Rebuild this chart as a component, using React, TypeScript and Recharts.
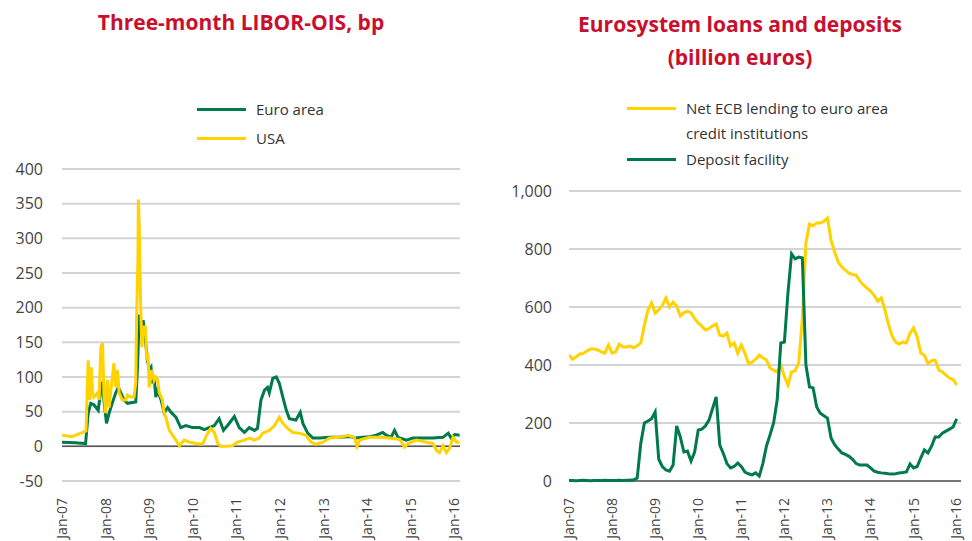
import React from "react";
import { LineChart, Line, XAxis, YAxis, CartesianGrid, ReferenceLine } from "recharts";

// colours
const GREEN = "#00794b";
const YELLOW = "#ffd200";
const TITLE = "#c8102e";
const FONT = "'Open Sans', 'Noto Sans', sans-serif";

// year ticks, shared by both charts
const yearTicks = [2007, 2008, 2009, 2010, 2011, 2012, 2013, 2014, 2015, 2016];

// Three-month LIBOR-OIS, bp  ([decimal year, bp])
const euroArea: [number, number][] = [
    [2007.0, 6], [2007.3, 5], [2007.54, 4], [2007.6, 48], [2007.66, 62], [2007.73, 60],
    [2007.83, 52], [2007.89, 81], [2007.93, 93], [2007.96, 67], [2008.02, 33], [2008.08, 48],
    [2008.15, 62], [2008.23, 77], [2008.29, 85], [2008.42, 67], [2008.5, 62], [2008.69, 64],
    [2008.73, 114], [2008.77, 190], [2008.81, 164], [2008.86, 182], [2008.91, 153], [2008.96, 124],
    [2009.0, 110], [2009.04, 114], [2009.07, 91], [2009.11, 100], [2009.15, 71], [2009.19, 81],
    [2009.27, 67], [2009.34, 49], [2009.42, 56], [2009.5, 49], [2009.61, 42], [2009.72, 27],
    [2009.84, 30], [2009.99, 27], [2010.15, 27], [2010.26, 24], [2010.37, 27], [2010.49, 30],
    [2010.6, 40], [2010.7, 23], [2010.83, 33], [2010.95, 43], [2011.06, 27], [2011.18, 20],
    [2011.29, 27], [2011.41, 23], [2011.48, 26], [2011.56, 67], [2011.64, 81], [2011.71, 85],
    [2011.75, 77], [2011.83, 98], [2011.91, 100], [2011.98, 91], [2012.06, 71], [2012.14, 52],
    [2012.21, 40], [2012.36, 38], [2012.46, 49], [2012.52, 33], [2012.63, 19], [2012.75, 12],
    [2012.9, 12], [2013.13, 13], [2013.36, 13], [2013.59, 14], [2013.74, 12], [2013.89, 13],
    [2014.05, 14], [2014.2, 16], [2014.35, 20], [2014.43, 16], [2014.54, 13], [2014.62, 23],
    [2014.7, 13], [2014.89, 9], [2015.04, 12], [2015.27, 12], [2015.5, 12], [2015.73, 13],
    [2015.85, 19], [2015.92, 12], [2016.0, 17], [2016.11, 16],
];

const usa: [number, number][] = [
    [2007.0, 16], [2007.23, 14], [2007.39, 18], [2007.55, 22], [2007.6, 124], [2007.64, 67],
    [2007.67, 114], [2007.7, 77], [2007.73, 71], [2007.81, 77], [2007.85, 67], [2007.89, 143],
    [2007.93, 149], [2007.96, 77], [2008.0, 48], [2008.04, 96], [2008.08, 56], [2008.12, 81],
    [2008.19, 120], [2008.23, 85], [2008.27, 110], [2008.31, 77], [2008.38, 67], [2008.46, 67],
    [2008.5, 74], [2008.58, 71], [2008.65, 71], [2008.69, 91], [2008.71, 187], [2008.74, 269],
    [2008.75, 356], [2008.77, 317], [2008.8, 211], [2008.83, 143], [2008.86, 172], [2008.91, 172],
    [2008.94, 124], [2008.97, 134], [2009.0, 85], [2009.06, 110], [2009.11, 95], [2009.15, 100],
    [2009.19, 96], [2009.23, 77], [2009.3, 67], [2009.34, 48], [2009.38, 42], [2009.44, 27],
    [2009.46, 23], [2009.61, 9], [2009.69, 1], [2009.8, 9], [2009.92, 6], [2010.07, 4],
    [2010.22, 3], [2010.34, 19], [2010.41, 26], [2010.49, 20], [2010.57, 4], [2010.64, 0],
    [2010.76, 0], [2010.91, 1], [2011.02, 6], [2011.18, 9], [2011.29, 12], [2011.41, 9],
    [2011.52, 12], [2011.6, 19], [2011.75, 23], [2011.87, 30], [2011.98, 42], [2012.06, 33],
    [2012.17, 26], [2012.29, 20], [2012.44, 19], [2012.59, 16], [2012.71, 6], [2012.82, 3],
    [2012.98, 6], [2013.13, 12], [2013.36, 13], [2013.55, 16], [2013.7, 13], [2013.76, 0],
    [2013.82, 9], [2014.05, 13], [2014.28, 13], [2014.51, 12], [2014.74, 10], [2014.85, -1],
    [2014.93, 4], [2015.12, 9], [2015.35, 6], [2015.5, 4], [2015.58, -6], [2015.65, -9],
    [2015.73, 1], [2015.81, -9], [2015.88, -3], [2015.96, 13], [2016.04, 6], [2016.11, 6],
];

const liborTicks = [-50, 0, 50, 100, 150, 200, 250, 300, 350, 400];

// Eurosystem loans and deposits, monthly from Jan-07 (billion euros)
const firstYear = 2007;
const netLending = [
    435, 420, 428, 438, 440, 448, 455, 455, 452, 445, 441, 469,
    441, 445, 472, 462, 462, 465, 459, 466, 476, 538, 590, 614,
    579, 590, 605, 631, 600, 617, 603, 569, 580, 586, 580, 560,
    545, 534, 521, 525, 535, 541, 503, 500, 510, 466, 476, 441,
    469, 440, 405, 410, 420, 434, 425, 417, 390, 382, 376, 400,
    360, 331, 376, 380, 407, 560, 820, 886, 880, 890, 890, 895,
    907, 830, 790, 755, 738, 727, 717, 712, 710, 690, 676, 665,
    655, 640, 620, 631, 590, 540, 500, 479, 472, 479, 476, 510,
    528, 497, 441, 434, 405, 415, 417, 383, 376, 365, 355, 350,
    331,
];
const depositFacility = [
    2, 2, 1, 2, 3, 2, 1, 2, 2, 2, 3, 2,
    2, 2, 3, 2, 3, 3, 4, 10, 130, 200, 207, 215,
    238, 75, 50, 38, 34, 55, 190, 152, 100, 103, 69, 100,
    176, 179, 190, 210, 250, 290, 124, 95, 60, 45, 50, 62,
    50, 31, 25, 21, 28, 17, 60, 120, 159, 200, 280, 476,
    479, 650, 783, 766, 772, 769, 400, 324, 321, 255, 234, 225,
    217, 148, 125, 110, 97, 92, 85, 75, 60, 55, 55, 55,
    45, 34, 30, 28, 27, 25, 24, 25, 28, 29, 31, 59,
    45, 50, 80, 107, 97, 120, 152, 152, 165, 172, 179, 186,
    214,
];
const euroTicks = [0, 200, 400, 600, 800, 1000];

const eurosystemRows = netLending.map((v, i) => ({
    t: firstYear + i / 12,
    lending: v,
    deposit: depositFacility[i],
}));

const toPairs = (d: [number, number][]) => d.map(([t, v]) => ({ t, v }));

const yearLabel = (y: number) => `Jan-${String(Math.round(y) % 100).padStart(2, "0")}`;

// vertical year label, text ends near the axis
const YearTick = (props: any) => {
    const { x, y, payload } = props;
    return (
        <g transform={`translate(${x},${y})`}>
            <text
                transform="rotate(-90)"
                x={-9}
                y={0}
                dy="0.35em"
                textAnchor="end"
                fill="#444"
                fontSize={14}
                fontFamily={FONT}
            >
                {yearLabel(payload.value)}
            </text>
        </g>
    );
};

const axisTick = { fill: "#444", fontSize: 16, fontFamily: FONT };

const LegendRow = ({ color, children, top, left }: any) => (
    <div style={{ position: "absolute", top, left, display: "flex", alignItems: "flex-start" }}>
        <div style={{ width: 49, height: 3, background: color, marginTop: 11, marginRight: 10 }} />
        <div style={{ fontSize: 15, color: "#333", lineHeight: "25px" }}>{children}</div>
    </div>
);

export default function App() {
    return (
        <div
            style={{
                position: "absolute",
                left: 0,
                top: 0,
                width: 972,
                height: 541,
                background: "#fff",
                fontFamily: FONT,
                overflow: "hidden",
            }}
        >
            {/* titles */}
            <div style={{ position: "absolute", left: 0, width: 482, top: 8, textAlign: "center", color: TITLE, fontWeight: 700, fontSize: 21 }}>
                Three-month LIBOR-OIS, bp
            </div>
            <div style={{ position: "absolute", left: 500, width: 480, top: 8, textAlign: "center", color: TITLE, fontWeight: 700, fontSize: 21, lineHeight: "33px" }}>
                Eurosystem loans and deposits
                <br />
                (billion euros)
            </div>

            {/* legends */}
            <LegendRow color={GREEN} top={97} left={197}>Euro area</LegendRow>
            <LegendRow color={YELLOW} top={126} left={197}>USA</LegendRow>
            <LegendRow color={YELLOW} top={96} left={627}>
                Net ECB lending to euro area
                <br />
                credit institutions
            </LegendRow>
            <LegendRow color={GREEN} top={147} left={627}>Deposit facility</LegendRow>

            {/* left chart */}
            <div style={{ position: "absolute", left: 0, top: 150 }}>
                <LineChart width={470} height={391} margin={{ top: 19, right: 10, bottom: 0, left: 0 }}>
                    <CartesianGrid vertical={false} stroke="#d4d4d4" strokeWidth={2} />
                    <XAxis
                        type="number"
                        dataKey="t"
                        domain={[2007, 2016.12]}
                        ticks={yearTicks}
                        tick={<YearTick />}
                        axisLine={false}
                        tickLine={false}
                        height={60}
                        allowDataOverflow
                    />
                    <YAxis
                        domain={[-50, 400]}
                        ticks={liborTicks}
                        tick={axisTick}
                        axisLine={false}
                        tickLine={false}
                        tickMargin={13}
                        width={62}
                        interval={0}
                    />
                    <ReferenceLine y={0} stroke="#555" strokeWidth={1.5} />
                    <Line data={toPairs(euroArea)} dataKey="v" stroke={GREEN} strokeWidth={3} dot={false} isAnimationActive={false} />
                    <Line data={toPairs(usa)} dataKey="v" stroke={YELLOW} strokeWidth={3} dot={false} isAnimationActive={false} />
                </LineChart>
            </div>

            {/* right chart */}
            <div style={{ position: "absolute", left: 490, top: 170 }}>
                <LineChart width={482} height={371} data={eurosystemRows} margin={{ top: 21, right: 11, bottom: 0, left: 0 }}>
                    <CartesianGrid vertical={false} stroke="#d4d4d4" strokeWidth={2} />
                    <XAxis
                        type="number"
                        dataKey="t"
                        domain={[2007, 2016.1]}
                        ticks={yearTicks}
                        tick={<YearTick />}
                        axisLine={false}
                        tickLine={false}
                        height={60}
                        allowDataOverflow
                    />
                    <YAxis
                        domain={[0, 1000]}
                        ticks={euroTicks}
                        tick={axisTick}
                        tickFormatter={(v: number) => v.toLocaleString("en-US")}
                        axisLine={false}
                        tickLine={false}
                        tickMargin={11}
                        width={79}
                        interval={0}
                    />
                    <ReferenceLine y={0} stroke="#555" strokeWidth={1.5} />
                    <Line dataKey="lending" stroke={YELLOW} strokeWidth={3} dot={false} isAnimationActive={false} />
                    <Line dataKey="deposit" stroke={GREEN} strokeWidth={3} dot={false} isAnimationActive={false} />
                </LineChart>
            </div>
        </div>
    );
}
